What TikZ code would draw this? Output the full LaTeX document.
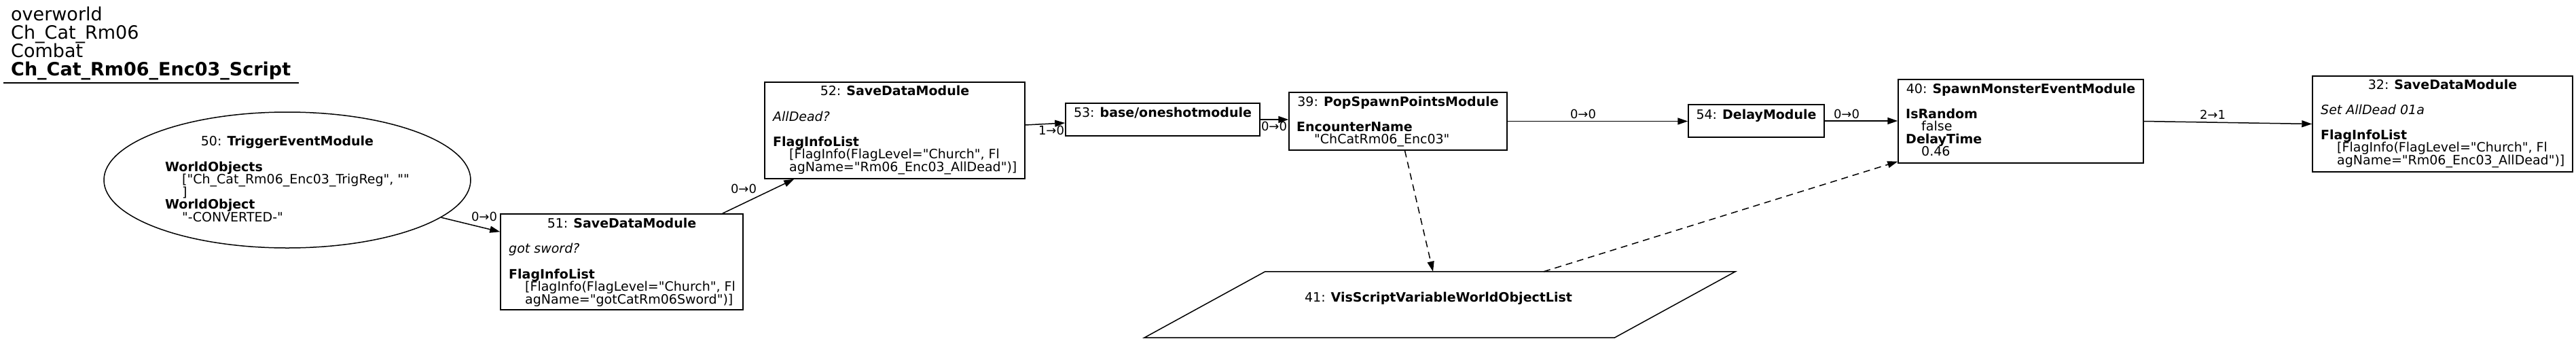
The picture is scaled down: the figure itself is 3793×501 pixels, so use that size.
\documentclass[tikz,border=0pt]{standalone}
\usepackage{fontspec}
\newfontfamily\dv{DejaVu Sans}
\usetikzlibrary{arrows.meta,shapes.geometric,calc}
\newcommand\nf{\dv\fontsize{19}{18.6}\selectfont}
\newcommand\tf{\dv\fontsize{27}{27}\selectfont}
\newcommand\ef{\dv\fontsize{18}{18}\selectfont}
\tikzset{
  box/.style={draw, line width=1.5pt, inner sep=0pt},
  tl/.style={font=\nf, anchor=base, inner sep=0pt},
  tw/.style={font=\nf, anchor=base west, inner sep=0pt},
  hd/.style={font=\tf, anchor=base west, inner sep=0pt},
  elbl/.style={font=\ef, anchor=center, inner sep=0pt},
  arr/.style={line width=1.5pt, -{Triangle[length=15pt,width=10pt]}},
  darr/.style={arr, dash pattern=on 10pt off 7pt},
}
\begin{document}
\begin{tikzpicture}[x=1pt,y=-1pt]
\useasboundingbox (0,0) rectangle (3793,501);
% title
\node[hd] (h1) at (16,30) {overworld};
\node[hd] (h2) at (16,57) {Ch\_Cat\_Rm06};
\node[hd] (h3) at (16,84) {Combat};
\node[hd] (h4) at (16,111) {\textbf{Ch\_Cat\_Rm06\_Enc03\_Script}};
\coordinate (u1) at (5,122);
\coordinate (u2) at (440,122);
\draw[line width=1.5pt] (u1) -- (u2);

% 50
\node[box, ellipse, minimum width=540pt, minimum height=200pt] (n50) at (423,265) {};
\node[tl] (t50a) at (423,214) {50: \textbf{TriggerEventModule}};
\node[tw] (t50b) at (243,252) {\textbf{WorldObjects}};
\node[tw] (t50c) at (268,270.6) {["Ch\_Cat\_Rm06\_Enc03\_TrigReg", ""};
\node[tw] (t50d) at (268,289.2) {]};
\node[tw] (t50e) at (243,307.8) {\textbf{WorldObject}};
\node[tw] (t50f) at (268,326.4) {"-CONVERTED-"};

% 51
\node[box, minimum width=357pt, minimum height=141pt] (n51) at (915.5,385.5) {};
\node[tl] (t51a) at (915.5,335) {51: \textbf{SaveDataModule}};
\node[tw] (t51b) at (749,372) {\textit{got sword?}};
\node[tw] (t51c) at (749,410) {\textbf{FlagInfoList}};
\node[tw] (t51d) at (773,428.5) {[FlagInfo(FlagLevel="Church", Fl};
\node[tw] (t51e) at (773,447) {agName="gotCatRm06Sword")]};

% 52
\node[box, minimum width=383pt, minimum height=142pt] (n52) at (1317.5,192) {};
\node[tl] (t52a) at (1317.5,140) {52: \textbf{SaveDataModule}};
\node[tw] (t52b) at (1138,178) {\textit{AllDead?}};
\node[tw] (t52c) at (1138,215) {\textbf{FlagInfoList}};
\node[tw] (t52d) at (1162,233.6) {[FlagInfo(FlagLevel="Church", Fl};
\node[tw] (t52e) at (1162,252.2) {agName="Rm06\_Enc03\_AllDead")]};

% 53
\node[box, minimum width=286pt, minimum height=48pt] (n53) at (1712,176) {};
\node[tl] (t53a) at (1712,172) {53: \textbf{base/oneshotmodule}};

% 39
\node[box, minimum width=321pt, minimum height=85pt] (n39) at (2058.5,178.5) {};
\node[tl] (t39a) at (2058.5,156) {39: \textbf{PopSpawnPointsModule}};
\node[tw] (t39b) at (1909,193) {\textbf{EncounterName}};
\node[tw] (t39c) at (1935,211.6) {"ChCatRm06\_Enc03"};

% 54
\node[box, minimum width=200pt, minimum height=48pt] (n54) at (2586,178) {};
\node[tl] (t54a) at (2586,175) {54: \textbf{DelayModule}};

% 40
\node[box, minimum width=361pt, minimum height=123pt] (n40) at (2975.5,178.5) {};
\node[tl] (t40a) at (2975.5,137) {40: \textbf{SpawnMonsterEventModule}};
\node[tw] (t40b) at (2806,174) {\textbf{IsRandom}};
\node[tw] (t40c) at (2829,192.6) {false};
\node[tw] (t40d) at (2806,211.2) {\textbf{DelayTime}};
\node[tw] (t40e) at (2829,229.8) {0.46};

% 32
\node[box, minimum width=383pt, minimum height=141pt] (n32) at (3596.5,182.5) {};
\node[tl] (t32a) at (3596.5,131) {32: \textbf{SaveDataModule}};
\node[tw] (t32b) at (3417,168) {\textit{Set AllDead 01a}};
\node[tw] (t32c) at (3417,205) {\textbf{FlagInfoList}};
\node[tw] (t32d) at (3441,223.6) {[FlagInfo(FlagLevel="Church", Fl};
\node[tw] (t32e) at (3441,242.2) {agName="Rm06\_Enc03\_AllDead")]};

% 41 parallelogram
\node[inner sep=0pt, minimum width=692pt, minimum height=97pt] (n41) at (2120,448.5) {};
\draw[line width=1.5pt] ($(n41.north west)+(89,0)$) -- ($(n41.north east)+(89,0)$)
  -- ($(n41.south east)+(-89,0)$) -- ($(n41.south west)+(-89,0)$) -- cycle;
\node[tl] (t41a) at (2118,444) {41: \textbf{VisScriptVariableWorldObjectList}};

% edges
\draw[arr] (n50) -- ([yshift=-27pt]n51.north west);
\node[elbl] (l1) at (713,319) {0→0};
\draw[arr] ([xshift=-31pt]n51.north east) -- ([xshift=44pt]n52.south west);
\node[elbl] (l2) at (1095,278) {0→0};
\draw[arr] ([yshift=8pt]n52.east) -- ([yshift=-5pt]n53.west);
\node[elbl] (l3) at (1548,192) {1→0};
\draw[arr] (n53.east) -- (n53.east -| n39.west);
\node[elbl] (l4) at (1876,186) {0→0};
\draw[arr] (n39.east) -- (n39.east -| n54.west);
\node[elbl] (l5) at (2331,168) {0→0};
\draw[arr] (n54.east) -- (n54.east -| n40.west);
\node[elbl] (l6) at (2719,168) {0→0};
\draw[arr] (n40.east) -- (n32.west);
\node[elbl] (l7) at (3258,169) {2→1};
\draw[darr] ([xshift=10pt]n39.south) -- ([xshift=-10pt]n41.north);
\draw[darr] ([xshift=153pt]n41.north) -- ([yshift=3pt]n40.south west);
\end{tikzpicture}
\end{document}
